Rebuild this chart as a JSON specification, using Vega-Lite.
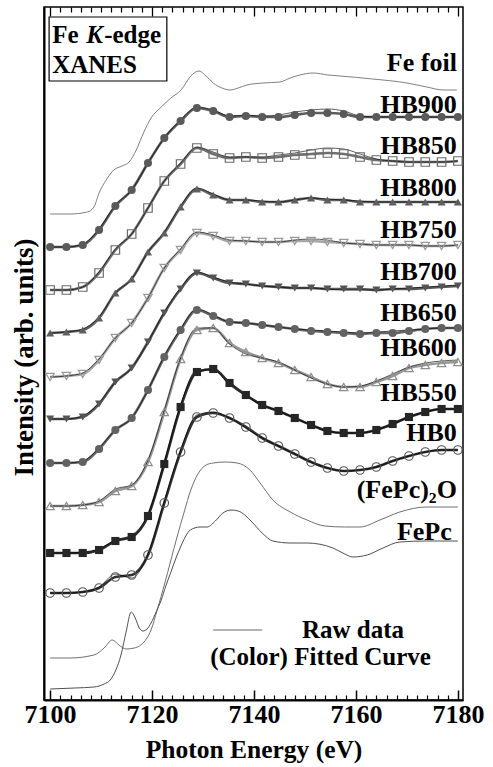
{
"$schema": "https://vega.github.io/schema/vega-lite/v6.json",
"width": 419, "height": 693,
"autosize": {"type": "none"},
"padding": {"left": 44, "top": 7, "right": 30, "bottom": 67},
"background": "white",
"config": {"view": {"stroke": "#000", "strokeWidth": 1.5}, "font": "Liberation Serif, Times New Roman, DejaVu Serif, serif"},
"datasets": {
"fit": [
{"s":"HB900","e":7100,"v":453,"r":453},{"s":"HB900","e":7103.2,"v":453,"r":453},{"s":"HB900","e":7106.4,"v":455,"r":456},{"s":"HB900","e":7109.6,"v":470,"r":471},{"s":"HB900","e":7112.8,"v":494,"r":495},{"s":"HB900","e":7116,"v":510,"r":510},{"s":"HB900","e":7119.2,"v":537,"r":537},{"s":"HB900","e":7122.4,"v":562,"r":562},{"s":"HB900","e":7125.6,"v":579,"r":580},{"s":"HB900","e":7128.8,"v":592,"r":593},{"s":"HB900","e":7132,"v":589,"r":590},{"s":"HB900","e":7135.2,"v":583,"r":584},{"s":"HB900","e":7138.4,"v":584,"r":585},{"s":"HB900","e":7141.6,"v":583,"r":584},{"s":"HB900","e":7144.8,"v":583,"r":585},{"s":"HB900","e":7148,"v":585,"r":588},{"s":"HB900","e":7151.2,"v":587,"r":590},{"s":"HB900","e":7154.4,"v":587,"r":591},{"s":"HB900","e":7157.6,"v":586,"r":589},{"s":"HB900","e":7160.8,"v":583,"r":584},{"s":"HB900","e":7164,"v":583,"r":583},{"s":"HB900","e":7167.2,"v":583,"r":583},{"s":"HB900","e":7170.4,"v":583,"r":583},{"s":"HB900","e":7173.6,"v":583,"r":583},{"s":"HB900","e":7176.8,"v":583,"r":583},{"s":"HB900","e":7180,"v":583,"r":583},
{"s":"HB850","e":7100,"v":410,"r":410},{"s":"HB850","e":7103.2,"v":410,"r":410},{"s":"HB850","e":7106.4,"v":413,"r":413},{"s":"HB850","e":7109.6,"v":427,"r":428},{"s":"HB850","e":7112.8,"v":450,"r":451},{"s":"HB850","e":7116,"v":466,"r":466},{"s":"HB850","e":7119.2,"v":492,"r":492},{"s":"HB850","e":7122.4,"v":519,"r":519},{"s":"HB850","e":7125.6,"v":536,"r":537},{"s":"HB850","e":7128.8,"v":552,"r":553},{"s":"HB850","e":7132,"v":546,"r":548},{"s":"HB850","e":7135.2,"v":542,"r":543},{"s":"HB850","e":7138.4,"v":543,"r":543},{"s":"HB850","e":7141.6,"v":542,"r":543},{"s":"HB850","e":7144.8,"v":543,"r":545},{"s":"HB850","e":7148,"v":545,"r":547},{"s":"HB850","e":7151.2,"v":546,"r":550},{"s":"HB850","e":7154.4,"v":547,"r":552},{"s":"HB850","e":7157.6,"v":546,"r":551},{"s":"HB850","e":7160.8,"v":543,"r":546},{"s":"HB850","e":7164,"v":540,"r":541},{"s":"HB850","e":7167.2,"v":539,"r":539},{"s":"HB850","e":7170.4,"v":538,"r":538},{"s":"HB850","e":7173.6,"v":538,"r":538},{"s":"HB850","e":7176.8,"v":538,"r":538},{"s":"HB850","e":7180,"v":539,"r":539},
{"s":"HB800","e":7100,"v":367,"r":367},{"s":"HB800","e":7103.2,"v":368,"r":368},{"s":"HB800","e":7106.4,"v":370,"r":371},{"s":"HB800","e":7109.6,"v":382,"r":383},{"s":"HB800","e":7112.8,"v":407,"r":407},{"s":"HB800","e":7116,"v":421,"r":421},{"s":"HB800","e":7119.2,"v":448,"r":448},{"s":"HB800","e":7122.4,"v":467,"r":468},{"s":"HB800","e":7125.6,"v":493,"r":494},{"s":"HB800","e":7128.8,"v":511,"r":512},{"s":"HB800","e":7132,"v":505,"r":506},{"s":"HB800","e":7135.2,"v":500,"r":500},{"s":"HB800","e":7138.4,"v":500,"r":500},{"s":"HB800","e":7141.6,"v":498,"r":499},{"s":"HB800","e":7144.8,"v":498,"r":498},{"s":"HB800","e":7148,"v":500,"r":500},{"s":"HB800","e":7151.2,"v":502,"r":502},{"s":"HB800","e":7154.4,"v":500,"r":501},{"s":"HB800","e":7157.6,"v":500,"r":500},{"s":"HB800","e":7160.8,"v":498,"r":499},{"s":"HB800","e":7164,"v":498,"r":498},{"s":"HB800","e":7167.2,"v":498,"r":498},{"s":"HB800","e":7170.4,"v":498,"r":498},{"s":"HB800","e":7173.6,"v":498,"r":498},{"s":"HB800","e":7176.8,"v":498,"r":498},{"s":"HB800","e":7180,"v":498,"r":498},
{"s":"HB750","e":7100,"v":323,"r":323},{"s":"HB750","e":7103.2,"v":324,"r":324},{"s":"HB750","e":7106.4,"v":326,"r":327},{"s":"HB750","e":7109.6,"v":340,"r":341},{"s":"HB750","e":7112.8,"v":362,"r":362},{"s":"HB750","e":7116,"v":377,"r":377},{"s":"HB750","e":7119.2,"v":402,"r":402},{"s":"HB750","e":7122.4,"v":432,"r":432},{"s":"HB750","e":7125.6,"v":450,"r":451},{"s":"HB750","e":7128.8,"v":467,"r":468},{"s":"HB750","e":7132,"v":464,"r":465},{"s":"HB750","e":7135.2,"v":459,"r":460},{"s":"HB750","e":7138.4,"v":459,"r":459},{"s":"HB750","e":7141.6,"v":458,"r":458},{"s":"HB750","e":7144.8,"v":458,"r":458},{"s":"HB750","e":7148,"v":459,"r":460},{"s":"HB750","e":7151.2,"v":459,"r":461},{"s":"HB750","e":7154.4,"v":458,"r":460},{"s":"HB750","e":7157.6,"v":457,"r":457},{"s":"HB750","e":7160.8,"v":456,"r":456},{"s":"HB750","e":7164,"v":455,"r":455},{"s":"HB750","e":7167.2,"v":455,"r":455},{"s":"HB750","e":7170.4,"v":455,"r":455},{"s":"HB750","e":7173.6,"v":454,"r":454},{"s":"HB750","e":7176.8,"v":454,"r":454},{"s":"HB750","e":7180,"v":455,"r":455},
{"s":"HB700","e":7100,"v":281,"r":281},{"s":"HB700","e":7103.2,"v":281,"r":281},{"s":"HB700","e":7106.4,"v":283,"r":284},{"s":"HB700","e":7109.6,"v":296,"r":297},{"s":"HB700","e":7112.8,"v":318,"r":318},{"s":"HB700","e":7116,"v":332,"r":332},{"s":"HB700","e":7119.2,"v":358,"r":358},{"s":"HB700","e":7122.4,"v":387,"r":388},{"s":"HB700","e":7125.6,"v":411,"r":412},{"s":"HB700","e":7128.8,"v":427,"r":428},{"s":"HB700","e":7132,"v":422,"r":423},{"s":"HB700","e":7135.2,"v":417,"r":418},{"s":"HB700","e":7138.4,"v":416,"r":416},{"s":"HB700","e":7141.6,"v":414,"r":414},{"s":"HB700","e":7144.8,"v":413,"r":413},{"s":"HB700","e":7148,"v":412,"r":412},{"s":"HB700","e":7151.2,"v":412,"r":412},{"s":"HB700","e":7154.4,"v":411,"r":411},{"s":"HB700","e":7157.6,"v":411,"r":410},{"s":"HB700","e":7160.8,"v":411,"r":410},{"s":"HB700","e":7164,"v":410,"r":410},{"s":"HB700","e":7167.2,"v":411,"r":411},{"s":"HB700","e":7170.4,"v":411,"r":412},{"s":"HB700","e":7173.6,"v":412,"r":413},{"s":"HB700","e":7176.8,"v":413,"r":414},{"s":"HB700","e":7180,"v":414,"r":415},
{"s":"HB650","e":7100,"v":237,"r":237},{"s":"HB650","e":7103.2,"v":237,"r":237},{"s":"HB650","e":7106.4,"v":238,"r":239},{"s":"HB650","e":7109.6,"v":251,"r":252},{"s":"HB650","e":7112.8,"v":270,"r":270},{"s":"HB650","e":7116,"v":282,"r":282},{"s":"HB650","e":7119.2,"v":310,"r":310},{"s":"HB650","e":7122.4,"v":343,"r":344},{"s":"HB650","e":7125.6,"v":370,"r":371},{"s":"HB650","e":7128.8,"v":390,"r":391},{"s":"HB650","e":7132,"v":384,"r":385},{"s":"HB650","e":7135.2,"v":378,"r":378},{"s":"HB650","e":7138.4,"v":377,"r":377},{"s":"HB650","e":7141.6,"v":375,"r":375},{"s":"HB650","e":7144.8,"v":373,"r":373},{"s":"HB650","e":7148,"v":371,"r":371},{"s":"HB650","e":7151.2,"v":369,"r":370},{"s":"HB650","e":7154.4,"v":368,"r":369},{"s":"HB650","e":7157.6,"v":367,"r":368},{"s":"HB650","e":7160.8,"v":366,"r":367},{"s":"HB650","e":7164,"v":367,"r":368},{"s":"HB650","e":7167.2,"v":367,"r":369},{"s":"HB650","e":7170.4,"v":369,"r":370},{"s":"HB650","e":7173.6,"v":371,"r":371},{"s":"HB650","e":7176.8,"v":372,"r":372},{"s":"HB650","e":7180,"v":372,"r":372},
{"s":"HB600","e":7100,"v":194,"r":194},{"s":"HB600","e":7103.2,"v":194,"r":194},{"s":"HB600","e":7106.4,"v":195,"r":195},{"s":"HB600","e":7109.6,"v":198,"r":199},{"s":"HB600","e":7112.8,"v":209,"r":211},{"s":"HB600","e":7116,"v":214,"r":215},{"s":"HB600","e":7119.2,"v":238,"r":240},{"s":"HB600","e":7122.4,"v":288,"r":290},{"s":"HB600","e":7125.6,"v":341,"r":342},{"s":"HB600","e":7128.8,"v":370,"r":372},{"s":"HB600","e":7132,"v":372,"r":372},{"s":"HB600","e":7135.2,"v":357,"r":356},{"s":"HB600","e":7138.4,"v":348,"r":346},{"s":"HB600","e":7141.6,"v":342,"r":342},{"s":"HB600","e":7144.8,"v":337,"r":338},{"s":"HB600","e":7148,"v":330,"r":330},{"s":"HB600","e":7151.2,"v":323,"r":322},{"s":"HB600","e":7154.4,"v":316,"r":316},{"s":"HB600","e":7157.6,"v":313,"r":313},{"s":"HB600","e":7160.8,"v":313,"r":314},{"s":"HB600","e":7164,"v":318,"r":319},{"s":"HB600","e":7167.2,"v":324,"r":326},{"s":"HB600","e":7170.4,"v":332,"r":333},{"s":"HB600","e":7173.6,"v":335,"r":337},{"s":"HB600","e":7176.8,"v":337,"r":339},{"s":"HB600","e":7180,"v":338,"r":340},
{"s":"HB550","e":7100,"v":147,"r":147},{"s":"HB550","e":7103.2,"v":147,"r":147},{"s":"HB550","e":7106.4,"v":147,"r":148},{"s":"HB550","e":7109.6,"v":150,"r":151},{"s":"HB550","e":7112.8,"v":159,"r":160},{"s":"HB550","e":7116,"v":163,"r":165},{"s":"HB550","e":7119.2,"v":184,"r":186},{"s":"HB550","e":7122.4,"v":236,"r":238},{"s":"HB550","e":7125.6,"v":293,"r":295},{"s":"HB550","e":7128.8,"v":328,"r":330},{"s":"HB550","e":7132,"v":331,"r":330},{"s":"HB550","e":7135.2,"v":317,"r":315},{"s":"HB550","e":7138.4,"v":305,"r":304},{"s":"HB550","e":7141.6,"v":295,"r":295},{"s":"HB550","e":7144.8,"v":289,"r":289},{"s":"HB550","e":7148,"v":282,"r":282},{"s":"HB550","e":7151.2,"v":275,"r":275},{"s":"HB550","e":7154.4,"v":269,"r":269},{"s":"HB550","e":7157.6,"v":267,"r":267},{"s":"HB550","e":7160.8,"v":267,"r":267},{"s":"HB550","e":7164,"v":270,"r":270},{"s":"HB550","e":7167.2,"v":276,"r":276},{"s":"HB550","e":7170.4,"v":283,"r":283},{"s":"HB550","e":7173.6,"v":288,"r":288},{"s":"HB550","e":7176.8,"v":291,"r":291},{"s":"HB550","e":7180,"v":291,"r":291},
{"s":"HB0","e":7100,"v":107,"r":107},{"s":"HB0","e":7103.2,"v":107,"r":107},{"s":"HB0","e":7106.4,"v":108,"r":108},{"s":"HB0","e":7109.6,"v":112,"r":113},{"s":"HB0","e":7112.8,"v":123,"r":126},{"s":"HB0","e":7116,"v":125,"r":122},{"s":"HB0","e":7119.2,"v":145,"r":146},{"s":"HB0","e":7122.4,"v":197,"r":199},{"s":"HB0","e":7125.6,"v":248,"r":250},{"s":"HB0","e":7128.8,"v":283,"r":285},{"s":"HB0","e":7132,"v":287,"r":288},{"s":"HB0","e":7135.2,"v":282,"r":282},{"s":"HB0","e":7138.4,"v":273,"r":272},{"s":"HB0","e":7141.6,"v":262,"r":262},{"s":"HB0","e":7144.8,"v":254,"r":254},{"s":"HB0","e":7148,"v":246,"r":246},{"s":"HB0","e":7151.2,"v":238,"r":238},{"s":"HB0","e":7154.4,"v":232,"r":232},{"s":"HB0","e":7157.6,"v":229,"r":229},{"s":"HB0","e":7160.8,"v":230,"r":230},{"s":"HB0","e":7164,"v":233,"r":233},{"s":"HB0","e":7167.2,"v":239,"r":239},{"s":"HB0","e":7170.4,"v":244,"r":244},{"s":"HB0","e":7173.6,"v":248,"r":248},{"s":"HB0","e":7176.8,"v":250,"r":250},{"s":"HB0","e":7180,"v":250,"r":250}
],
"ref": [
{"s":"Fe foil","e":7100,"v":486},{"s":"Fe foil","e":7103.9,"v":486},{"s":"Fe foil","e":7107.3,"v":488},{"s":"Fe foil","e":7108.6,"v":493},{"s":"Fe foil","e":7109.6,"v":507},{"s":"Fe foil","e":7111,"v":520},{"s":"Fe foil","e":7112.5,"v":530},{"s":"Fe foil","e":7114.1,"v":534},{"s":"Fe foil","e":7115.5,"v":538},{"s":"Fe foil","e":7116.9,"v":550},{"s":"Fe foil","e":7118.4,"v":568},{"s":"Fe foil","e":7119.8,"v":582},{"s":"Fe foil","e":7121.8,"v":593},{"s":"Fe foil","e":7123.7,"v":602},{"s":"Fe foil","e":7125.7,"v":610},{"s":"Fe foil","e":7127.6,"v":624},{"s":"Fe foil","e":7129.2,"v":629},{"s":"Fe foil","e":7130.6,"v":624},{"s":"Fe foil","e":7132,"v":617},{"s":"Fe foil","e":7133.7,"v":612},{"s":"Fe foil","e":7135.3,"v":610},{"s":"Fe foil","e":7136.9,"v":612},{"s":"Fe foil","e":7138.6,"v":615},{"s":"Fe foil","e":7141.8,"v":617},{"s":"Fe foil","e":7145.1,"v":618},{"s":"Fe foil","e":7147.1,"v":622},{"s":"Fe foil","e":7149,"v":625},{"s":"Fe foil","e":7151.6,"v":627},{"s":"Fe foil","e":7154.5,"v":625},{"s":"Fe foil","e":7156.9,"v":624},{"s":"Fe foil","e":7163.3,"v":621},{"s":"Fe foil","e":7170,"v":617},{"s":"Fe foil","e":7173.9,"v":613},{"s":"Fe foil","e":7177.1,"v":610},{"s":"Fe foil","e":7179.8,"v":610},
{"s":"(FePc)2O","e":7100,"v":42},{"s":"(FePc)2O","e":7103.9,"v":42},{"s":"(FePc)2O","e":7108.6,"v":45},{"s":"(FePc)2O","e":7110.6,"v":52},{"s":"(FePc)2O","e":7112.2,"v":60},{"s":"(FePc)2O","e":7113.5,"v":55},{"s":"(FePc)2O","e":7114.9,"v":51},{"s":"(FePc)2O","e":7116.5,"v":52},{"s":"(FePc)2O","e":7117.8,"v":55},{"s":"(FePc)2O","e":7119,"v":62},{"s":"(FePc)2O","e":7119.8,"v":70},{"s":"(FePc)2O","e":7121,"v":90},{"s":"(FePc)2O","e":7122.4,"v":115},{"s":"(FePc)2O","e":7123.7,"v":140},{"s":"(FePc)2O","e":7124.9,"v":163},{"s":"(FePc)2O","e":7126.3,"v":188},{"s":"(FePc)2O","e":7127.6,"v":210},{"s":"(FePc)2O","e":7129,"v":226},{"s":"(FePc)2O","e":7130.6,"v":235},{"s":"(FePc)2O","e":7132,"v":237},{"s":"(FePc)2O","e":7134.3,"v":238},{"s":"(FePc)2O","e":7136.7,"v":237},{"s":"(FePc)2O","e":7139.2,"v":230},{"s":"(FePc)2O","e":7141.2,"v":217},{"s":"(FePc)2O","e":7143.7,"v":200},{"s":"(FePc)2O","e":7147.1,"v":188},{"s":"(FePc)2O","e":7150.4,"v":180},{"s":"(FePc)2O","e":7153.9,"v":174},{"s":"(FePc)2O","e":7157.8,"v":173},{"s":"(FePc)2O","e":7160.8,"v":173},{"s":"(FePc)2O","e":7164.7,"v":180},{"s":"(FePc)2O","e":7168.6,"v":188},{"s":"(FePc)2O","e":7173.9,"v":193},{"s":"(FePc)2O","e":7180,"v":193},
{"s":"FePc","e":7100,"v":11},{"s":"FePc","e":7104.9,"v":12},{"s":"FePc","e":7108.6,"v":13},{"s":"FePc","e":7110.6,"v":16},{"s":"FePc","e":7111.8,"v":20},{"s":"FePc","e":7112.9,"v":30},{"s":"FePc","e":7113.9,"v":45},{"s":"FePc","e":7114.9,"v":68},{"s":"FePc","e":7115.9,"v":88},{"s":"FePc","e":7116.7,"v":82},{"s":"FePc","e":7117.5,"v":72},{"s":"FePc","e":7118.2,"v":69},{"s":"FePc","e":7119,"v":71},{"s":"FePc","e":7119.8,"v":77},{"s":"FePc","e":7120.8,"v":88},{"s":"FePc","e":7121.8,"v":100},{"s":"FePc","e":7122.7,"v":114},{"s":"FePc","e":7123.7,"v":128},{"s":"FePc","e":7124.7,"v":142},{"s":"FePc","e":7125.5,"v":152},{"s":"FePc","e":7126.5,"v":163},{"s":"FePc","e":7127.5,"v":170},{"s":"FePc","e":7129.4,"v":173},{"s":"FePc","e":7130.8,"v":173},{"s":"FePc","e":7132.4,"v":179},{"s":"FePc","e":7133.9,"v":187},{"s":"FePc","e":7135.5,"v":190},{"s":"FePc","e":7136.9,"v":189},{"s":"FePc","e":7138.2,"v":185},{"s":"FePc","e":7139.6,"v":178},{"s":"FePc","e":7141.6,"v":167},{"s":"FePc","e":7143.7,"v":159},{"s":"FePc","e":7147.1,"v":157},{"s":"FePc","e":7150.4,"v":157},{"s":"FePc","e":7155.5,"v":152},{"s":"FePc","e":7157.8,"v":146},{"s":"FePc","e":7159.4,"v":143},{"s":"FePc","e":7162.2,"v":145},{"s":"FePc","e":7165.3,"v":152},{"s":"FePc","e":7168.6,"v":158},{"s":"FePc","e":7173.9,"v":159},{"s":"FePc","e":7180,"v":159}
],
"labels": [
{"t":"Fe foil","e":7179.8,"v":637},{"t":"HB900","e":7179.8,"v":595},{"t":"HB850","e":7179.8,"v":554},{"t":"HB800","e":7179.8,"v":512},{"t":"HB750","e":7179.8,"v":470},{"t":"HB700","e":7179.8,"v":428},{"t":"HB650","e":7179.8,"v":387},{"t":"HB600","e":7179.8,"v":352},{"t":"HB550","e":7179.8,"v":307},{"t":"HB0","e":7179.8,"v":267},{"t":"(FePc)₂O","e":7179.8,"v":210},{"t":"FePc","e":7178.8,"v":168}
],
"notes": [
{"t":"Fe","e":7100.4,"v":657},{"t":"-edge","e":7110.6,"v":657},{"t":"XANES","e":7100.4,"v":627},{"t":"Raw data","e":7149.4,"v":62},{"t":"(Color)  Fitted Curve","e":7131.4,"v":35}
]
},
"layer": [
{"data": {"name": "ref"}, "mark": {"type": "line", "strokeWidth": 1, "interpolate": "monotone"},
 "encoding": {
  "x": {"field": "e", "type": "quantitative", "scale": {"domain": [7098.8, 7181], "nice": false, "zero": false},
   "axis": {"orient": "bottom", "values": [7100, 7120, 7140, 7160, 7180], "format": "d", "tickSize": -10, "tickWidth": 1.5, "tickColor": "#000", "domainColor": "#000", "domainWidth": 2, "labelFont": "Liberation Serif, Times New Roman, DejaVu Serif, serif", "labelFontWeight": "bold", "labelFontSize": 26, "labelColor": "#000", "labelPadding": 11, "labelFlush": false, "title": "Photon Energy (eV)", "titleFont": "Liberation Serif, Times New Roman, DejaVu Serif, serif", "titleFontWeight": "bold", "titleFontSize": 25.5, "titleColor": "#000", "titleY": 57, "titleBaseline": "alphabetic", "grid": false}},
  "y": {"field": "v", "type": "quantitative", "scale": {"domain": [0, 693], "nice": false, "zero": false},
   "axis": {"orient": "left", "ticks": false, "labels": false, "grid": false, "domainColor": "#000", "domainWidth": 2, "title": "Intensity (arb. units)", "titleFont": "Liberation Serif, Times New Roman, DejaVu Serif, serif", "titleFontWeight": "bold", "titleFontSize": 27, "titleColor": "#000", "titleX": -20, "titleY": 350, "titleAngle": -90, "titleAlign": "center", "titleBaseline": "middle"}},
  "detail": {"field": "s"},
  "color": {"field": "s", "type": "nominal", "scale": {"domain": ["Fe foil", "(FePc)2O", "FePc"], "range": ["#808080", "#707070", "#505050"]}, "legend": null}
 }},
{"data": {"name": "fit"}, "mark": {"type": "line", "strokeWidth": 2.7, "interpolate": "monotone"},
 "encoding": {
  "x": {"field": "e", "type": "quantitative", "axis": {"orient": "top", "values": [7100, 7120, 7140, 7160, 7180], "tickSize": -9, "tickWidth": 1.3, "tickColor": "#000", "labels": false, "title": null, "domain": false, "grid": false}},
  "y": {"field": "v", "type": "quantitative", "axis": null},
  "color": {"field": "s", "type": "nominal", "scale": {"domain": ["HB900","HB850","HB800","HB750","HB700","HB650","HB600","HB550","HB0"], "range": ["#5e5e5e","#707070","#626262","#a8a8a8","#585858","#666666","#989898","#2a2a2a","#333333"]}, "legend": null}
 }},
{"data": {"name": "fit"}, "mark": {"type": "line", "strokeWidth": 0.8, "color": "#000", "opacity": 0.8, "interpolate": "monotone"},
 "encoding": {
  "x": {"field": "e", "type": "quantitative", "axis": {"orient": "bottom", "values": [7102,7104,7106,7108,7110,7112,7114,7116,7118,7122,7124,7126,7128,7130,7132,7134,7136,7138,7142,7144,7146,7148,7150,7152,7154,7156,7158,7162,7164,7166,7168,7170,7172,7174,7176,7178], "tickSize": -5, "tickWidth": 1.2, "tickColor": "#000", "labels": false, "title": null, "domain": false, "grid": false}},
  "y": {"field": "r", "type": "quantitative", "axis": null},
  "detail": {"field": "s"}
 }},
{"data": {"name": "fit"}, "transform": [{"filter": {"field": "s", "oneOf": ["HB900","HB800","HB700","HB650","HB550"]}}],
 "mark": {"type": "point", "filled": true, "size": 66, "opacity": 1},
 "encoding": {
  "x": {"field": "e", "type": "quantitative", "axis": {"orient": "top", "values": [7102,7104,7106,7108,7110,7112,7114,7116,7118,7122,7124,7126,7128,7130,7132,7134,7136,7138,7142,7144,7146,7148,7150,7152,7154,7156,7158,7162,7164,7166,7168,7170,7172,7174,7176,7178], "tickSize": -5, "tickWidth": 1.2, "tickColor": "#000", "labels": false, "title": null, "domain": false, "grid": false}},
  "y": {"field": "v", "type": "quantitative", "axis": null},
  "color": {"field": "s", "type": "nominal", "scale": {"domain": ["HB900","HB800","HB700","HB650","HB550"], "range": ["#5a5a5a","#5e5e5e","#555555","#626262","#262626"]}, "legend": null},
  "shape": {"field": "s", "type": "nominal", "scale": {"domain": ["HB900","HB850","HB800","HB750","HB700","HB650","HB600","HB550","HB0"], "range": ["circle","square","triangle-up","triangle-down","triangle-down","circle","triangle-up","square","circle"]}, "legend": null}
 }},
{"data": {"name": "fit"}, "transform": [{"filter": {"field": "s", "oneOf": ["HB850","HB750","HB600","HB0"]}}],
 "mark": {"type": "point", "filled": false, "size": 72, "strokeWidth": 1.2, "opacity": 1},
 "encoding": {
  "x": {"field": "e", "type": "quantitative", "axis": null},
  "y": {"field": "v", "type": "quantitative", "axis": null},
  "color": {"field": "s", "type": "nominal", "scale": {"domain": ["HB850","HB750","HB600","HB0"], "range": ["#6a6a6a","#9a9a9a","#8e8e8e","#555555"]}, "legend": null},
  "shape": {"field": "s", "type": "nominal", "legend": null}
 }},
{"data": {"values": [{"a": 7099.8, "b": 7122.9, "c": 683, "d": 619}]},
 "mark": {"type": "rect", "fill": "white", "stroke": "#000", "strokeWidth": 1.2},
 "encoding": {"x": {"field": "a", "type": "quantitative", "axis": null}, "x2": {"field": "b"}, "y": {"field": "c", "type": "quantitative", "axis": null}, "y2": {"field": "d"}}},
{"data": {"values": [{"a": 7132.0, "b": 7141.6, "c": 70}]},
 "mark": {"type": "rule", "stroke": "#666", "strokeWidth": 1},
 "encoding": {"x": {"field": "a", "type": "quantitative", "axis": null}, "x2": {"field": "b"}, "y": {"field": "c", "type": "quantitative", "axis": null}}},
{"data": {"name": "notes"},
 "mark": {"type": "text", "align": "left", "baseline": "alphabetic", "font": "Liberation Serif, Times New Roman, DejaVu Serif, serif", "fontWeight": "bold", "fontSize": 25, "color": "#000"},
 "encoding": {"x": {"field": "e", "type": "quantitative", "axis": null}, "y": {"field": "v", "type": "quantitative", "axis": null}, "text": {"field": "t"}}},
{"data": {"values": [{"t": "K", "e": 7107.1, "v": 657}]},
 "mark": {"type": "text", "align": "left", "baseline": "alphabetic", "font": "Liberation Serif, Times New Roman, DejaVu Serif, serif", "fontWeight": "bold", "fontStyle": "italic", "fontSize": 25, "color": "#000"},
 "encoding": {"x": {"field": "e", "type": "quantitative", "axis": null}, "y": {"field": "v", "type": "quantitative", "axis": null}, "text": {"field": "t"}}},
{"data": {"name": "labels"},
 "mark": {"type": "text", "align": "right", "baseline": "middle", "font": "Liberation Serif, Times New Roman, DejaVu Serif, serif", "fontWeight": "bold", "fontSize": 26, "color": "#000"},
 "encoding": {"x": {"field": "e", "type": "quantitative", "axis": null}, "y": {"field": "v", "type": "quantitative", "axis": null}, "text": {"field": "t"}}}
],
"resolve": {"axis": {"x": "independent", "y": "independent"}, "scale": {"color": "independent", "shape": "shared"}}
}
